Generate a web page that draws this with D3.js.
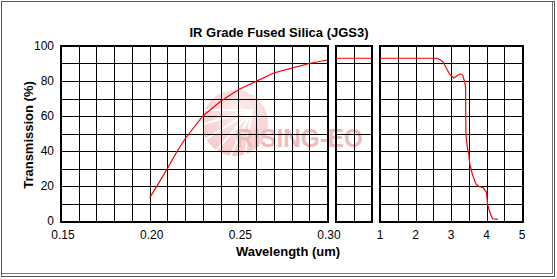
<!DOCTYPE html>
<html>
<head>
<meta charset="utf-8">
<script src="https://cdn.jsdelivr.net/npm/d3@7"></script>
<style>
  body { margin: 0; background: #fff; }
  svg { display: block; font-family: Arial, "Liberation Sans", sans-serif; }
</style>
</head>
<body>
<svg id="chart" width="557" height="279"></svg>
<script>
// data
var uvWave = [0.20, 0.205, 0.21, 0.215, 0.22, 0.23, 0.24, 0.25, 0.26, 0.27, 0.28, 0.29, 0.30]
var uvTrans = [13.2, 21.5, 30, 39, 47, 60, 68.4, 75, 79.8, 84.6, 87.4, 90, 92]
var midWave = [0.30, 1.0]
var midTrans = [93, 93]
var irWave = [1.0, 2.62, 2.77, 2.87, 2.96, 3.08, 3.17, 3.26, 3.33, 3.38, 3.41, 3.42, 3.46, 3.50, 3.53, 3.60, 3.70, 3.79, 3.90, 4.0, 4.03, 4.09, 4.17, 4.32]
var irTrans = [93, 93, 91.1, 87.3, 83.9, 81.7, 83, 84.1, 83.4, 79.8, 76.9, 49.5, 42, 38.2, 32.5, 26.8, 21.2, 19.7, 19.1, 16.4, 9.8, 5.1, 1.3, 0.9]
var yTicks = [0, 20, 40, 60, 80, 100]
var uvTicks = [0.15, 0.20, 0.25, 0.30]
var irTicks = [1, 2, 3, 4, 5]

var svg = d3.select('#chart')

// outer frame
svg.append('rect').attr('x', 1.5).attr('y', 1.5).attr('width', 553).attr('height', 275)
  .attr('fill', 'none').attr('stroke', '#555')
svg.append('path').attr('d', 'M552.5,1.5V273.5H1.5')
  .attr('fill', 'none').attr('stroke', '#777')

var y = d3.scaleLinear().domain([0, 100]).range([221, 46])

// three panels with broken x axis
var panels = [
  { x: d3.scaleLinear().domain([0.15, 0.30]).range([61, 327]), grid: d3.range(0.15, 0.3001, 0.01), wave: uvWave, trans: uvTrans },
  { x: d3.scaleLinear().domain([0.30, 1.0]).range([336, 371]), grid: [0.30, 0.65, 1.0], wave: midWave, trans: midTrans },
  { x: d3.scaleLinear().domain([1, 5]).range([380, 522]), grid: d3.range(1, 5.001, 0.5), wave: irWave, trans: irTrans }
]

// watermark
var wm = svg.append('g').attr('opacity', 0.5)
var grad = svg.append('defs').append('radialGradient').attr('id', 'sun')
  .attr('cx', '55%').attr('cy', '30%').attr('r', '75%')
grad.append('stop').attr('offset', '0%').attr('stop-color', '#fcdede')
grad.append('stop').attr('offset', '100%').attr('stop-color', '#ec9090')
wm.append('circle').attr('cx', 235).attr('cy', 123).attr('r', 33).attr('fill', 'url(#sun)')
d3.range(6).forEach(function (i) {
  var a = Math.PI * (0.55 + i * 0.09)
  wm.append('line')
    .attr('x1', 252).attr('y1', 110)
    .attr('x2', 252 + Math.cos(a) * 62).attr('y2', 110 + Math.sin(a) * 62)
    .attr('stroke', '#fff').attr('stroke-width', 2)
})
var wmText = wm.append('text')
  .attr('font-size', 26).attr('font-weight', 'bold').attr('fill', '#e27878')
  .text('RISING-EO')
// stretch the logo text to its width in the picture
var wmLen = wmText.node().getComputedTextLength() || 128
wmText.attr('transform', 'translate(236,147) scale(' + (127 / wmLen) + ',1)')

panels.forEach(function (p) {
  var g = svg.append('g').attr('shape-rendering', 'crispEdges')
  var x0 = p.x.range()[0], x1 = p.x.range()[1]
  // vertical grid
  g.selectAll('.v').data(p.grid).join('line')
    .attr('x1', function (d) { return Math.round(p.x(d)) + 0.5 })
    .attr('x2', function (d) { return Math.round(p.x(d)) + 0.5 })
    .attr('y1', y(100)).attr('y2', y(0))
    .attr('stroke', '#000')
  // horizontal grid
  g.selectAll('.h').data(d3.range(0, 101, 10)).join('line')
    .attr('x1', x0).attr('x2', x1)
    .attr('y1', function (d) { return Math.round(y(d)) + 0.5 })
    .attr('y2', function (d) { return Math.round(y(d)) + 0.5 })
    .attr('stroke', '#000')
  // panel border
  g.append('rect').attr('x', x0).attr('y', y(100))
    .attr('width', x1 - x0 + 1).attr('height', y(0) - y(100) + 1)
    .attr('fill', 'none').attr('stroke', '#000').attr('stroke-width', 2)

  var line = d3.line()
    .x(function (d, i) { return p.x(p.wave[i]) })
    .y(function (d) { return y(d) })
  svg.append('path').datum(p.trans)
    .attr('d', line)
    .attr('fill', 'none').attr('stroke', '#f00').attr('stroke-width', 1.2)
})

// y tick labels
svg.selectAll('.yt').data(yTicks).join('text')
  .attr('x', 54).attr('y', function (d) { return y(d) + 3.5 })
  .attr('text-anchor', 'end').attr('font-size', 12)
  .text(function (d) { return d })

// x tick labels
var fmt = d3.format('.2f')
svg.selectAll('.xt1').data(uvTicks).join('text')
  .attr('x', function (d) { return panels[0].x(d) + 2 })
  .attr('y', 238.5).attr('text-anchor', 'middle').attr('font-size', 12)
  .text(function (d) { return fmt(d) })
svg.selectAll('.xt3').data(irTicks).join('text')
  .attr('x', function (d) { return panels[2].x(d) })
  .attr('y', 238.5).attr('text-anchor', 'middle').attr('font-size', 12)
  .text(function (d) { return d })

// titles
svg.append('text').attr('x', 279).attr('y', 37).attr('text-anchor', 'middle')
  .attr('font-size', 13).attr('font-weight', 'bold').text('IR Grade Fused Silica (JGS3)')
svg.append('text').attr('x', 288).attr('y', 256).attr('text-anchor', 'middle')
  .attr('font-size', 13).attr('font-weight', 'bold').text('Wavelength (um)')
svg.append('text').attr('transform', 'translate(33,135) rotate(-90)')
  .attr('text-anchor', 'middle').attr('font-size', 13).attr('font-weight', 'bold')
  .text('Transmission (%)')
</script>
</body>
</html>
